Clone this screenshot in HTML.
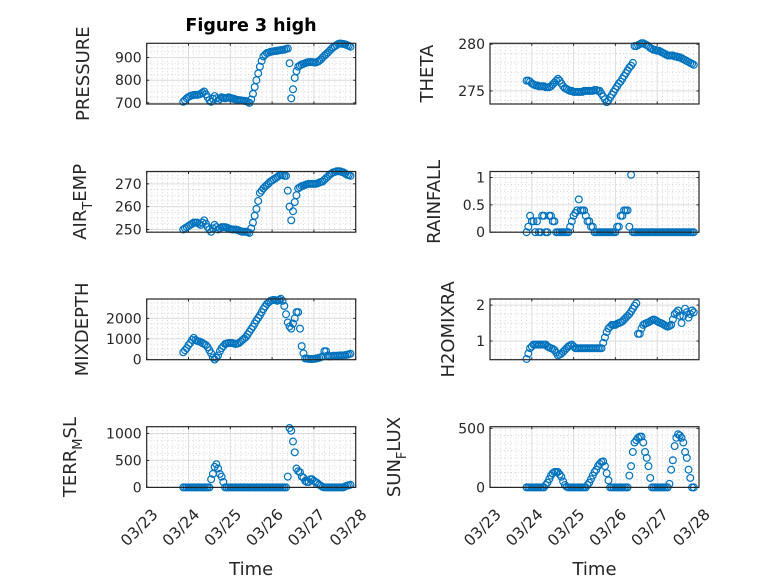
<!DOCTYPE html>
<html><head><meta charset="utf-8"><style>
body{margin:0;background:#fff}
svg{display:block;font-family:"DejaVu Sans","Liberation Sans",sans-serif}
</style></head><body>
<svg id="fig" width="778" height="583" viewBox="0 0 778 583" xmlns="http://www.w3.org/2000/svg">
<rect width="778" height="583" fill="#fff"/>
<text x="251" y="31" text-anchor="middle" font-size="17.5" font-weight="bold" fill="#000">Figure 3 high</text>
</svg>
<script>
const startDay = 0.875;
const stepDay = 1/24;
const xTickLabels = ["03/23","03/24","03/25","03/26","03/27","03/28"];
const pressure = [705,712,720,726,730,733,735,736,735,737,740,745,750,738,725,712,705,718,730,720,710,718,725,722,720,722,725,722,720,718,715,713,712,711,710,709,708,704,700,715,740,770,800,830,860,885,905,913,920,922,925,927,928,929,930,932,933,934,935,938,940,875,720,760,810,840,860,865,870,872,875,878,880,880,880,879,878,881,885,892,900,908,915,922,930,938,945,950,955,960,962,961,960,958,955,952,948];
const theta = [276.1,276.1,276.0,275.8,275.7,275.6,275.6,275.5,275.5,275.5,275.5,275.4,275.4,275.4,275.5,275.7,275.9,276.1,276.3,276.1,275.8,275.5,275.3,275.2,275.1,275.0,275.0,274.9,274.9,274.9,274.9,274.9,274.9,275.0,275.0,275.0,275.0,275.0,275.0,275.1,275.1,275.0,275.0,274.7,274.4,274.1,273.8,274.0,274.3,274.6,274.9,275.2,275.5,275.8,276.0,276.3,276.6,276.9,277.2,277.5,277.7,278.0,279.8,279.8,279.9,280.0,280.1,280.1,280.0,279.9,279.8,279.6,279.5,279.4,279.4,279.3,279.3,279.2,279.1,279.0,278.9,278.8,278.8,278.8,278.8,278.7,278.7,278.6,278.6,278.5,278.4,278.3,278.2,278.1,278.0,277.9,277.8];
const airTemp = [250,250.5,251,251.5,252,252.5,253,253,253,252.5,252,253,254,252.5,251,250,249,250.5,252,251,250,250.5,251,251,251,250.8,250.5,250.2,250,250,250,249.8,249.5,249.2,249,249,249,248.8,248.5,250.5,253,256,259,262.5,266,267,268,268.8,269.5,270.2,271,271.5,272,272.5,273,273.5,274,273.8,273.5,273.5,267,260,254,258,262,265,268,268.5,269,269.2,269.5,269.8,270,270,270,270,270,270.2,270.5,270.8,271,271.8,272.5,273.2,274,274.5,275,275.2,275.5,275.5,275.5,275.2,275,274.5,274,273.8,273.5];
const rainfall = [0,0.1,0.3,0.2,0.2,0,0.2,0,0,0.3,0.3,0,0,0.3,0.3,0.2,0.2,0,0,0,0,0,0,0,0,0.1,0.2,0.3,0.35,0.4,0.6,0.4,0.4,0.4,0.3,0.2,0.2,0.1,0.1,0,0,0,0,0,0,0,0,0,0,0,0,0,0.1,0.1,0.3,0.3,0.4,0.4,0.4,0.1,1.05,0,0,0,0,0,0,0,0,0,0,0,0,0,0,0,0,0,0,0,0,0,0,0,0,0,0,0,0,0,0,0,0,0,0,0,0];
const mixDepth = [350,450,550,700,800,950,1050,950,900,880,850,800,750,700,600,450,300,100,0,80,200,400,550,650,750,780,800,800,800,780,750,770,800,870,950,1020,1100,1220,1350,1480,1600,1750,1900,2020,2150,2300,2450,2580,2700,2780,2850,2880,2900,2880,2850,2900,2950,2850,2600,2200,1800,1600,1500,1750,2000,2300,2300,1500,650,300,50,40,30,25,20,30,40,60,80,110,150,400,400,200,150,160,180,180,180,190,200,200,200,210,230,250,280];
const h2oMix = [0.5,0.65,0.8,0.85,0.9,0.9,0.9,0.9,0.9,0.9,0.9,0.9,0.85,0.82,0.8,0.78,0.75,0.68,0.6,0.62,0.65,0.7,0.75,0.8,0.85,0.88,0.9,0.85,0.8,0.8,0.8,0.8,0.8,0.8,0.8,0.8,0.8,0.8,0.8,0.8,0.8,0.8,0.8,0.8,0.95,1.1,1.25,1.35,1.4,1.45,1.45,1.45,1.48,1.5,1.52,1.55,1.6,1.65,1.7,1.75,1.82,1.9,1.98,2.05,1.2,1.2,1.35,1.45,1.48,1.5,1.52,1.55,1.58,1.6,1.58,1.55,1.52,1.5,1.48,1.45,1.42,1.4,1.42,1.45,1.6,1.75,1.8,1.85,1.7,1.5,1.7,1.9,1.8,1.65,1.75,1.85,1.8];
const terrMsl = [0,0,0,0,0,0,0,0,0,0,0,0,0,0,0,0,150,250,380,430,350,250,200,100,0,0,0,0,0,0,0,0,0,0,0,0,0,0,0,0,0,0,0,0,0,0,0,0,0,0,0,0,0,0,0,0,0,0,0,0,200,1100,1050,850,650,350,300,280,200,180,120,100,100,150,150,120,100,80,50,30,10,0,0,0,0,0,0,0,0,0,0,0,0,20,30,40,50];
const sunFlux = [0,0,0,0,0,0,0,0,0,0,0,20,40,70,100,120,130,130,130,110,90,50,20,5,0,0,0,0,0,0,0,0,0,0,0,20,40,70,100,130,150,180,200,215,220,180,120,60,0,0,0,0,0,0,0,0,0,0,0,100,180,300,380,400,420,430,430,380,300,250,180,80,0,0,0,0,0,0,0,0,0,0,30,150,230,350,420,450,440,420,380,300,250,150,80,0,0];
const pressureTicks=[700,800,900], thetaTicks=[275,280], airTicks=[250,260,270], rainTicks=[0,0.5,1], mixTicks=[0,1000,2000], h2oTicks=[1,2], terrTicks=[0,500,1000], sunTicks=[0,500];

const NS="http://www.w3.org/2000/svg";
const svg=document.getElementById('fig');
function mk(tag,attrs,parent){const e=document.createElementNS(NS,tag);for(const k in attrs)e.setAttribute(k,attrs[k]);(parent||svg).appendChild(e);return e;}

const panels=[
 {name:'pressure',vals:pressure,ticks:pressureTicks,lo:695,hi:963,minor:25,x0:146.7,y0:43.3,lab:['PRESSURE'],lx:89},
 {name:'theta',vals:theta,ticks:thetaTicks,lo:273.6,hi:280.1,minor:1,x0:490,y0:43.3,lab:['THETA'],lx:433},
 {name:'air-temp',vals:airTemp,ticks:airTicks,lo:248.8,hi:275.4,minor:2.5,x0:146.7,y0:171.5,lab:['AIR','T','EMP'],lx:86},
 {name:'rainfall',vals:rainfall,ticks:rainTicks,lo:0,hi:1.11,minor:0.125,x0:490,y0:171.5,lab:['RAINFALL'],lx:440},
 {name:'mixdepth',vals:mixDepth,ticks:mixTicks,lo:-10,hi:2940,minor:250,x0:146.7,y0:299,lab:['MIXDEPTH'],lx:88},
 {name:'h2o-mixratio',vals:h2oMix,ticks:h2oTicks,lo:0.48,hi:2.17,minor:0.25,x0:490,y0:299,lab:['H2OMIXRA'],lx:454},
 {name:'terr-msl',vals:terrMsl,ticks:terrTicks,lo:0,hi:1125,minor:125,x0:146.7,y0:426.7,lab:['TERR','M','SL'],lx:76,xl:true},
 {name:'sun-flux',vals:sunFlux,ticks:sunTicks,lo:0,hi:514,minor:62.5,x0:490,y0:426.7,lab:['SUN','F','LUX'],lx:400,xl:true}
];
const W=209,H=60.7,DAY=W/5;

panels.forEach(p=>{
 const g=mk('g',{});
 
 
 const xS=t=>p.x0+t*DAY;
 const yS=v=>p.y0+H-(v-p.lo)/(p.hi-p.lo)*H;
 mk('rect',{x:p.x0,y:p.y0,width:W,height:H,fill:'#fff'},g);
 for(let m=1;m<40;m++){ if(m%8===0)continue; const x=xS(m/8);
  mk('line',{x1:x,x2:x,y1:p.y0,y2:p.y0+H,stroke:'#bdbdbd','stroke-width':0.6,'stroke-dasharray':'1 2.5'},g);}
 const start=Math.ceil(p.lo/p.minor)*p.minor;
 for(let v=start;v<=p.hi+1e-9;v+=p.minor){ if(p.ticks.some(t=>Math.abs(t-v)<1e-6))continue; const y=yS(v);
  mk('line',{x1:p.x0,x2:p.x0+W,y1:y,y2:y,stroke:'#bdbdbd','stroke-width':0.6,'stroke-dasharray':'1 2.5'},g);}
 for(let d=1;d<5;d++){const x=xS(d);mk('line',{x1:x,x2:x,y1:p.y0,y2:p.y0+H,stroke:'#dcdcdc','stroke-width':1},g);}
 p.ticks.forEach(v=>{const y=yS(v);mk('line',{x1:p.x0,x2:p.x0+W,y1:y,y2:y,stroke:'#dcdcdc','stroke-width':1},g);});
 for(let d=0;d<=5;d++){const x=xS(d);
  mk('line',{x1:x,x2:x,y1:p.y0+H,y2:p.y0+H-2.5,stroke:'#262626'},g);
  mk('line',{x1:x,x2:x,y1:p.y0,y2:p.y0+2.5,stroke:'#262626'},g);}
 p.ticks.forEach(v=>{const y=yS(v);
  mk('line',{x1:p.x0,x2:p.x0+2.5,y1:y,y2:y,stroke:'#262626'},g);
  mk('line',{x1:p.x0+W,x2:p.x0+W-2.5,y1:y,y2:y,stroke:'#262626'},g);
  const t=mk('text',{x:p.x0-5,y:y+5,'text-anchor':'end','font-size':14,fill:'#262626'},g);
  
  
  t.textContent=String(v);});
 p.vals.forEach((v,i)=>{
  const c=mk('circle',{cx:xS(startDay+i*stepDay).toFixed(2),cy:yS(v).toFixed(2),r:3.4,fill:'none',stroke:'#0072BD','stroke-width':1.2},g);
  
  
 });
 mk('rect',{x:p.x0,y:p.y0,width:W,height:H,fill:'none',stroke:'#262626','stroke-width':1.2},g);
 const cy=p.y0+H/2;
 const lab=mk('text',{transform:`translate(${p.lx},${cy}) rotate(-90)`,'text-anchor':'middle','font-size':18,fill:'#262626'},g);
 
 
 if(p.lab.length===1){lab.textContent=p.lab[0];}
 else{
  const a=mk('tspan',{},lab);a.textContent=p.lab[0];
  const b=mk('tspan',{dy:6,'font-size':13},lab);b.textContent=p.lab[1];
  const c=mk('tspan',{dy:-6},lab);c.textContent=p.lab[2];
 }
 if(p.xl){
  xTickLabels.forEach((s,d)=>{const x=xS(d);
   const t=mk('text',{transform:`translate(${x+12},${p.y0+H+28}) rotate(-45)`,'text-anchor':'end','font-size':15.5,fill:'#262626'},g);
   
   
   t.textContent=s;});
  const tt=mk('text',{x:p.x0+W/2,y:575,'text-anchor':'middle','font-size':18,fill:'#262626'},g);
  
  
  tt.textContent='Time';
 }
});
</script>
</body></html>
